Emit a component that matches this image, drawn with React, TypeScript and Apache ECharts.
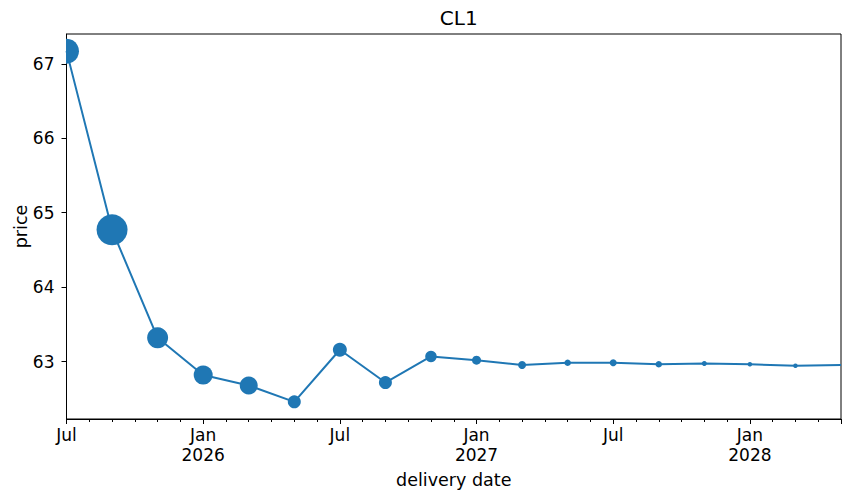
import React, { useEffect, useRef } from "react";
import * as echarts from "echarts";

const dates = [
  "2025-07", "2025-09", "2025-11", "2026-01", "2026-03", "2026-05",
  "2026-07", "2026-09", "2026-11", "2027-01", "2027-03", "2027-05",
  "2027-07", "2027-09", "2027-11", "2028-01", "2028-03", "2028-05",
];
const prices = [
  67.17, 64.77, 63.32, 62.82, 62.68, 62.46,
  63.16, 62.72, 63.07, 63.02, 62.955, 62.985,
  62.985, 62.965, 62.975, 62.965, 62.945, 62.955,
];
// marker diameters in px
const markerSizes = [25, 31, 21, 19, 18, 13, 14, 13, 11.5, 9, 8, 6.5, 7, 6.5, 5, 4.5, 4.5, 0];
const monthNames = ["Jan", "Feb", "Mar", "Apr", "May", "Jun", "Jul", "Aug", "Sep", "Oct", "Nov", "Dec"];

const START_YEAR = 2025;
const START_MONTH = 7;
const toIndex = (d: string) => {
  const [y, m] = d.split("-").map(Number);
  return (y - START_YEAR) * 12 + (m - START_MONTH);
};
const points = dates.map((d, i) => [toIndex(d), prices[i]]);
const xMax = toIndex(dates[dates.length - 1]);

const FONT = "DejaVu Sans";
const BLUE = "#1f77b4";

const labelFor = (v: number) => {
  if (Math.abs(v - Math.round(v)) > 1e-6) return "";
  const idx = Math.round(v);
  if (idx % 6 !== 0) return "";
  const abs = START_MONTH - 1 + idx;
  const month = ((abs % 12) + 12) % 12;
  const year = START_YEAR + Math.floor(abs / 12);
  return month === 0 ? `${monthNames[month]}\n${year}` : monthNames[month];
};

export default function App() {
  const ref = useRef<HTMLDivElement>(null);
  useEffect(() => {
    if (!ref.current) return;
    const chart = echarts.init(ref.current, null, { renderer: "svg" });
    chart.setOption({
      animation: false,
      backgroundColor: "#fff",
      textStyle: { fontFamily: FONT },
      title: {
        text: "CL1",
        left: 453.75,
        top: 3,
        textAlign: "center",
        textStyle: { fontFamily: FONT, fontSize: 20, fontWeight: "normal", color: "#000" },
      },
      grid: {
        left: 66.5,
        right: 10,
        top: 34,
        bottom: 82,
        show: true,
        borderColor: "#000",
        borderWidth: 1,
        backgroundColor: "transparent",
        containLabel: false,
        outerBoundsMode: "none",
      },
      xAxis: [
        {
          type: "value",
          min: 0,
          max: xMax,
          interval: 1,
          position: "bottom",
          axisLine: { show: true, lineStyle: { color: "#000", width: 1 } },
          axisTick: { show: true, length: 3, lineStyle: { color: "#000", width: 1 } },
          axisLabel: { show: false },
          splitLine: { show: false },
        },
        {
          type: "value",
          min: 0,
          max: xMax,
          interval: 6,
          position: "bottom",
          name: "delivery date",
          nameLocation: "middle",
          nameGap: 52,
          nameMoveOverlap: false,
          nameTextStyle: { fontFamily: FONT, fontSize: 17.5, color: "#000" },
          axisLine: { show: false },
          axisTick: { show: true, length: 5, lineStyle: { color: "#000", width: 1 } },
          axisLabel: {
            show: true,
            margin: 6,
            fontFamily: FONT,
            fontSize: 17,
            lineHeight: 20,
            color: "#000",
            formatter: (v: number) => labelFor(v),
          },
          splitLine: { show: false },
        },
      ],
      yAxis: {
        type: "value",
        min: 62.23,
        max: 67.4,
        splitNumber: 5,
        name: "price",
        nameLocation: "middle",
        nameRotate: 90,
        nameGap: 37,
        nameMoveOverlap: false,
        nameTextStyle: { fontFamily: FONT, fontSize: 17.5, color: "#000" },
        axisLine: { show: true, lineStyle: { color: "#000", width: 1 } },
        axisTick: { show: true, length: 5, lineStyle: { color: "#000", width: 1 } },
        axisLabel: {
          margin: 12,
          fontFamily: FONT,
          fontSize: 17,
          color: "#000",
          showMinLabel: false,
          showMaxLabel: false,
          formatter: (v: number) => (Math.abs(v - Math.round(v)) < 1e-6 ? String(Math.round(v)) : ""),
        },
        splitLine: { show: false },
      },
      series: [
        {
          type: "line",
          xAxisIndex: 0,
          data: points,
          symbol: "none",
          lineStyle: { color: BLUE, width: 2 },
          clip: true,
          z: 2,
        },
        {
          type: "custom",
          xAxisIndex: 0,
          data: points,
          clip: true,
          z: 3,
          renderItem: (params: any, api: any) => {
            const p = api.coord([api.value(0), api.value(1)]);
            const r = markerSizes[params.dataIndex] / 2;
            if (!(r > 0)) return null;
            return {
              type: "circle",
              shape: { cx: p[0], cy: p[1], r },
              style: { fill: BLUE },
            };
          },
        },
      ],
    });
    return () => chart.dispose();
  }, []);
  return (
    <div
      ref={ref}
      style={{ position: "fixed", left: 0, top: 0, width: 851, height: 501 }}
    />
  );
}
